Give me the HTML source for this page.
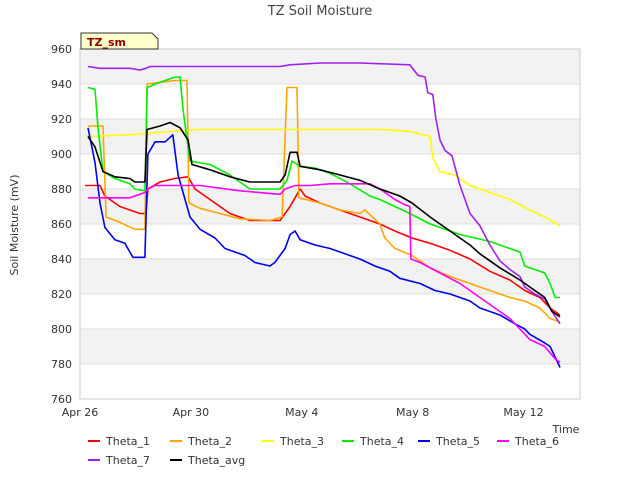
<!DOCTYPE html>
<html><head><meta charset="utf-8"><style>
body{margin:0;background:#fff;font-family:"Liberation Sans","DejaVu Sans",sans-serif}
svg text{font-family:"DejaVu Sans","Liberation Sans",sans-serif}
</style></head><body>
<svg id="c" width="640" height="480" xmlns="http://www.w3.org/2000/svg">
<rect width="640" height="480" fill="#fff"/>
<text x="320" y="15" text-anchor="middle" font-size="13" fill="#444">TZ Soil Moisture</text>
<text transform="translate(18,225) rotate(-90)" text-anchor="middle" font-size="11" fill="#333">Soil Moisture (mV)</text>
<text x="566" y="433" text-anchor="middle" font-size="11" fill="#333">Time</text>
<g id="bands"></g><g id="grid"></g><g id="ticks"></g><g id="series"></g>
<rect x="80" y="49" width="500" height="350" fill="none" stroke="#ccc"/>
<g>
<path d="M81,33 H152 L158,39 V49 H81 Z" fill="#ffffcc" stroke="#333"/>
<text x="87" y="46" font-size="11" font-weight="bold" fill="#8b0000">TZ_sm</text>
</g>
<g id="legend"></g>
</svg>
<script>
const yTicks=[760,780,800,820,840,860,880,900,920,940,960];
const xTickDays=[0,4,8,12,16];
const xTickLabels=["Apr 26","Apr 30","May 4","May 8","May 12"];
const names=["Theta_1","Theta_2","Theta_3","Theta_4","Theta_5","Theta_6","Theta_7","Theta_avg"];
const colors=["#ff0000","#ffa500","#ffff00","#00ee00","#0000ee","#ff00ff","#a020f0","#000000"];
const theta1=[[0.18,882],[0.72,882],[0.9,876],[1.44,870],[2.16,866],[2.38,866],[2.45,880],[2.89,884],[3.43,886],[3.9,887],[4.15,880],[4.69,874],[5.41,866],[6.13,862],[7.22,862],[7.58,870],[7.94,880],[8.12,876],[8.66,872],[9.38,868],[10.1,864],[10.82,860],[11.36,856],[11.98,852],[12.63,849],[13.35,845],[14.07,840],[14.79,833],[15.51,828],[16.05,822],[16.59,818],[16.96,812],[17.32,808]];
const theta2=[[0.29,916],[0.83,916],[0.94,864],[1.44,861],[1.98,857],[2.34,857],[2.42,940],[2.89,941],[3.43,942],[3.86,942],[3.93,872],[4.33,869],[5.05,866],[5.77,863],[6.85,862],[7.29,864],[7.47,938],[7.83,938],[7.9,875],[8.66,872],[9.38,868],[10.1,866],[10.28,868],[10.82,860],[11.0,852],[11.36,846],[11.98,842],[12.63,835],[13.35,830],[14.07,826],[14.79,822],[15.51,818],[16.05,816],[16.59,812],[16.96,806],[17.32,804]];
const theta3=[[0.29,910],[1.8,911],[2.53,912],[4.33,914],[7.94,914],[10.82,914],[11.9,913],[12.63,910],[12.73,898],[12.99,890],[13.53,888],[14.07,882],[14.79,878],[15.51,874],[16.23,868],[16.77,864],[17.32,859]];
const theta4=[[0.29,938],[0.54,937],[0.65,915],[0.83,890],[1.26,886],[1.8,883],[1.98,880],[2.34,879],[2.42,938],[2.89,941],[3.43,944],[3.61,944],[3.72,925],[3.97,896],[4.69,894],[5.41,888],[6.13,880],[7.22,880],[7.47,885],[7.65,896],[7.94,893],[8.48,892],[9.02,889],[9.74,883],[10.46,876],[10.82,874],[11.36,870],[11.9,866],[12.63,860],[13.71,854],[14.79,850],[15.51,846],[15.87,844],[16.05,836],[16.77,832],[16.96,826],[17.14,818],[17.32,818]];
const theta5=[[0.29,915],[0.54,895],[0.72,872],[0.9,858],[1.26,851],[1.62,849],[1.91,841],[2.34,841],[2.45,900],[2.71,907],[3.07,907],[3.35,911],[3.54,888],[3.97,864],[4.33,857],[4.87,852],[5.23,846],[5.95,842],[6.31,838],[6.85,836],[7.03,838],[7.4,846],[7.58,854],[7.76,856],[7.94,851],[8.48,848],[9.02,846],[9.56,843],[10.1,840],[10.64,836],[11.18,833],[11.54,829],[12.27,826],[12.81,822],[13.35,820],[14.07,816],[14.43,812],[15.15,808],[15.69,803],[16.05,800],[16.23,797],[16.77,792],[16.96,790],[17.14,784],[17.32,778]];
const theta6=[[0.29,875],[1.8,875],[2.34,878],[2.45,880],[2.71,882],[4.33,882],[5.77,879],[7.22,877],[7.4,880],[7.76,882],[8.3,882],[9.02,883],[10.46,883],[10.82,880],[11.36,874],[11.72,871],[11.9,870],[11.94,840],[12.27,838],[12.99,832],[13.71,826],[14.43,818],[14.97,812],[15.51,806],[15.87,800],[16.23,794],[16.77,790],[17.14,783],[17.32,781]];
const theta7=[[0.29,950],[0.72,949],[1.8,949],[2.16,948],[2.38,949],[2.53,950],[4.33,950],[7.22,950],[7.58,951],[8.66,952],[10.1,952],[11.9,951],[12.19,945],[12.45,944],[12.55,935],[12.73,934],[12.84,920],[12.99,908],[13.17,902],[13.42,899],[13.71,882],[14.07,866],[14.43,859],[14.79,848],[15.15,839],[15.51,834],[15.87,830],[16.05,824],[16.41,820],[16.77,817],[17.03,810],[17.32,803]];
const thetaAvg=[[0.29,910],[0.54,904],[0.83,890],[1.26,887],[1.8,886],[1.98,884],[2.34,884],[2.42,914],[2.89,916],[3.25,918],[3.61,915],[3.9,908],[4.04,894],[4.69,891],[5.41,887],[6.13,884],[7.22,884],[7.4,888],[7.58,901],[7.83,901],[7.94,893],[8.66,891],[9.38,888],[10.1,885],[10.82,880],[11.54,876],[11.98,872],[12.63,864],[13.35,856],[14.07,848],[14.43,843],[15.15,835],[15.87,828],[16.41,822],[16.77,818],[17.03,810],[17.32,807]];
const seriesData=[theta1,theta2,theta3,theta4,theta5,theta6,theta7,thetaAvg];
const X0=80,X1=580,Y0=399,Y1=49,DMAX=18.04;
const sx=d=>X0+(d/DMAX)*(X1-X0);
const sy=v=>Y0-(v-760)/(960-760)*(Y0-Y1);
const NS="http://www.w3.org/2000/svg";
function mk(tag,attrs,parent){const e=document.createElementNS(NS,tag);for(const k in attrs)e.setAttribute(k,attrs[k]);parent.appendChild(e);return e;}
const bands=document.getElementById('bands'),grid=document.getElementById('grid'),ticks=document.getElementById('ticks'),ser=document.getElementById('series'),leg=document.getElementById('legend');
for(let i=0;i<yTicks.length-1;i++){
  if(i%2===1){const r=mk('rect',{x:X0,y:sy(yTicks[i+1]),width:X1-X0,height:sy(yTicks[i])-sy(yTicks[i+1]),fill:'#f2f2f2'},bands);
  
  }
}
yTicks.forEach(v=>{
  const l=mk('line',{x1:X0,x2:X1,y1:sy(v),y2:sy(v),stroke:'#ddd'},grid);
  
  
  const t=mk('text',{x:X0-8,y:sy(v)+4,'text-anchor':'end','font-size':11,fill:'#333'},ticks);
  t.textContent=v;
  
  
});
xTickDays.forEach((d,i)=>{
  const t=mk('text',{x:sx(d),y:416,'text-anchor':'middle','font-size':11,fill:'#333'},ticks);
  t.textContent=xTickLabels[i];
  
  
});
seriesData.forEach((s,i)=>{
  const p=mk('polyline',{points:s.map(q=>sx(q[0]).toFixed(1)+','+sy(q[1]).toFixed(1)).join(' '),fill:'none',stroke:colors[i],'stroke-width':1.6,'stroke-linejoin':'round'},ser);
  
  
});
const legPos=[[88,441],[170,441],[262,441],[342,441],[418,441],[497,441],[88,460],[170,460]];
names.forEach((n,i)=>{
  const [x,y]=legPos[i];
  const g=mk('g',{},leg);
  
  
  mk('line',{x1:x,x2:x+12,y1:y,y2:y,stroke:colors[i],'stroke-width':2},g);
  const t=mk('text',{x:x+18,y:y+4,'font-size':11,fill:'#333'},g);
  t.textContent=n;
});
</script>
</body></html>
